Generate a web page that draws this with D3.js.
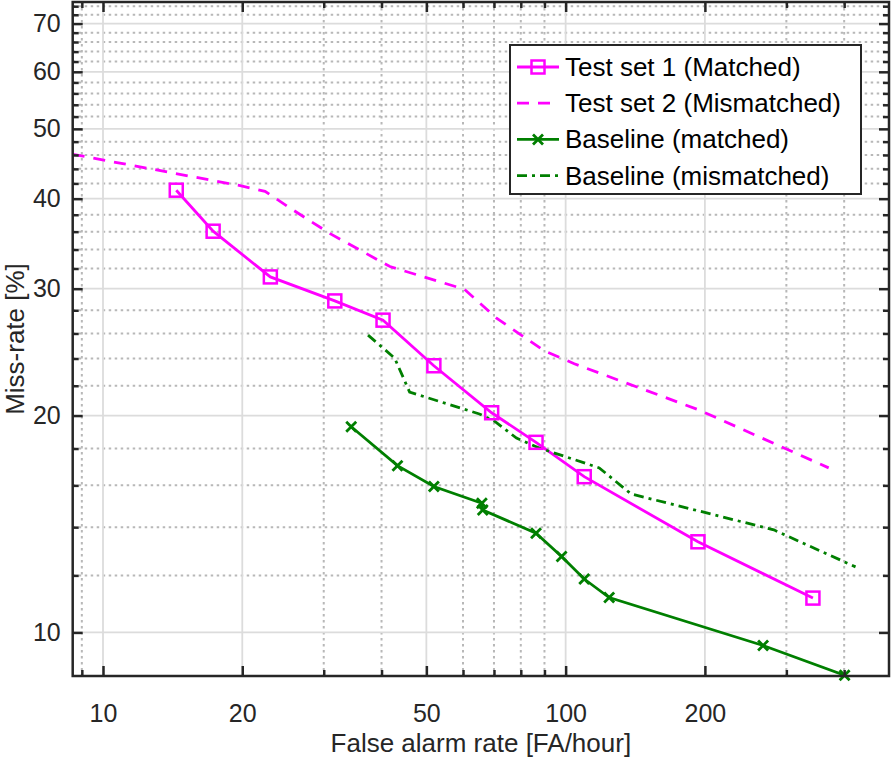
<!DOCTYPE html>
<html>
<head>
<meta charset="utf-8">
<script src="https://cdn.jsdelivr.net/npm/d3@7"></script>
<style>
  body { margin: 0; background: #fff; }
  text { font-family: "Liberation Sans", Arial, sans-serif; }
</style>
</head>
<body>
<svg width="893" height="757"></svg>
<script>
// tick values
var xTicks = [10, 20, 50, 100, 200];
var xMinor = [9, 30, 40, 60, 70, 80, 90, 300, 400];
var yTicks = [10, 20, 30, 40, 50, 60, 70];
var yMinor = [12, 14, 16, 18, 22, 24, 26, 28, 32, 34, 36, 38, 42, 44, 46, 48,
  52, 54, 56, 58, 62, 64, 66, 68, 72, 74];

// Test set 1 (Matched)
var test1X = [14.4, 17.3, 23.0, 31.7, 40.3, 51.9, 69.2, 86.3, 109.7, 193.2, 342.4];
var test1Y = [41.1, 36.05, 31.15, 28.85, 27.13, 23.45, 20.18, 18.36, 16.45, 13.36, 11.16];

// Test set 2 (Mismatched)
var test2X = [8.6, 19.8, 22.4, 25.4, 30.9, 41.7, 60.4, 70.9, 89.9, 104.4, 194.2, 370.3];
var test2Y = [46.1, 41.7, 40.95, 38.8, 35.8, 32.2, 29.95, 27.3, 24.6, 23.6, 20.36, 16.92];

// Baseline (matched)
var baseMX = [34.4, 43.3, 51.9, 65.9, 66.2, 86.3, 98.0, 109.7, 124.2, 267.2, 400.9];
var baseMY = [19.3, 17.04, 15.94, 15.11, 14.79, 13.73, 12.75, 11.86, 11.18, 9.59, 8.72];

// Baseline (mismatched)
var baseUX = [37.4, 42.7, 46.0, 65.1, 70.2, 78.3, 87.7, 118.2, 138.5, 281.8, 423.3];
var baseUY = [25.86, 24.03, 21.56, 20.1, 19.65, 18.61, 18.03, 16.92, 15.57, 13.88, 12.33];

var legendNames = ["Test set 1 (Matched)", "Test set 2 (Mismatched)", "Baseline (matched)", "Baseline (mismatched)"];

var magenta = "#ff00ff", green = "#007f00", axisCol = "#262626";
var pLeft = 72.7, pRight = 889, pTop = 2, pBottom = 676;

var svg = d3.select("svg");

var x = d3.scaleLog().domain([8.6, 500]).range([pLeft, pRight]);
var y = d3.scaleLog().domain([8.7, 75]).range([pBottom, pTop]);

// grid
var grid = svg.append("g");
grid.selectAll(".gxm").data(xMinor).join("line")
  .attr("x1", d => x(d)).attr("x2", d => x(d)).attr("y1", pTop).attr("y2", pBottom)
  .style("stroke", "#b8b8b8").style("stroke-width", 2).style("stroke-dasharray", "2.5,3.5");
grid.selectAll(".gym").data(yMinor).join("line")
  .attr("y1", d => y(d)).attr("y2", d => y(d)).attr("x1", pLeft).attr("x2", pRight)
  .style("stroke", "#b8b8b8").style("stroke-width", 2).style("stroke-dasharray", "2.5,3.5");
grid.selectAll(".gx").data(xTicks).join("line")
  .attr("x1", d => x(d)).attr("x2", d => x(d)).attr("y1", pTop).attr("y2", pBottom)
  .style("stroke", "#dcdcdc").style("stroke-width", 1.8);
grid.selectAll(".gy").data(yTicks).join("line")
  .attr("y1", d => y(d)).attr("y2", d => y(d)).attr("x1", pLeft).attr("x2", pRight)
  .style("stroke", "#dcdcdc").style("stroke-width", 1.8);

// data lines
svg.append("clipPath").attr("id", "clip").append("rect")
  .attr("x", pLeft).attr("y", pTop).attr("width", pRight - pLeft).attr("height", pBottom - pTop);
var plot = svg.append("g").attr("clip-path", "url(#clip)");

function pts(xs, ys) { return xs.map((v, i) => [v, ys[i]]); }
var line = d3.line().x(d => x(d[0])).y(d => y(d[1]));

var series = [
  { name: legendNames[0], data: pts(test1X, test1Y), color: magenta, dash: null, marker: "square" },
  { name: legendNames[1], data: pts(test2X, test2Y), color: magenta, dash: "12,9", marker: null },
  { name: legendNames[2], data: pts(baseMX, baseMY), color: green, dash: null, marker: "cross" },
  { name: legendNames[3], data: pts(baseUX, baseUY), color: green, dash: "10,5,3,5", marker: null }
];

function drawMarker(g, type, color, cx, cy) {
  if (type === "square") {
    g.append("rect").attr("x", cx - 6.5).attr("y", cy - 6.5).attr("width", 13).attr("height", 13)
      .style("fill", "none").style("stroke", color).style("stroke-width", 2.5);
  } else if (type === "cross") {
    g.append("path").attr("d", `M${cx - 5},${cy - 5}L${cx + 5},${cy + 5}M${cx - 5},${cy + 5}L${cx + 5},${cy - 5}`)
      .style("fill", "none").style("stroke", color).style("stroke-width", 2.8);
  }
}

series.forEach(function (s) {
  plot.append("path").datum(s.data).attr("d", line)
    .style("fill", "none").style("stroke", s.color).style("stroke-width", 2.8)
    .style("stroke-dasharray", s.dash);
});
series.forEach(function (s) {
  if (!s.marker) return;
  var mg = svg.append("g");
  s.data.forEach(d => drawMarker(mg, s.marker, s.color, x(d[0]), y(d[1])));
});

// axes (ticks inside, on all four sides)
function styleAxis(g) {
  g.select(".domain").remove();
  g.selectAll(".tick line").style("stroke", axisCol).style("stroke-width", 2.5);
  g.selectAll(".tick text").style("fill", axisCol).style("font-size", "25px");
}
var fmt = d3.format("d");
svg.append("g").attr("transform", `translate(0,${pBottom})`)
  .call(d3.axisBottom(x).tickValues(xTicks).tickFormat(fmt).tickSizeInner(-10).tickPadding(28))
  .call(styleAxis);
svg.append("g").attr("transform", `translate(0,${pBottom})`)
  .call(d3.axisBottom(x).tickValues(xMinor).tickFormat("").tickSizeInner(-6)).call(styleAxis);
svg.append("g").attr("transform", `translate(0,${pTop})`)
  .call(d3.axisTop(x).tickValues(xTicks).tickFormat("").tickSizeInner(-10)).call(styleAxis);
svg.append("g").attr("transform", `translate(0,${pTop})`)
  .call(d3.axisTop(x).tickValues(xMinor).tickFormat("").tickSizeInner(-6)).call(styleAxis);
svg.append("g").attr("transform", `translate(${pLeft},0)`)
  .call(d3.axisLeft(y).tickValues(yTicks).tickFormat(fmt).tickSizeInner(-10).tickPadding(12))
  .call(styleAxis);
svg.append("g").attr("transform", `translate(${pLeft},0)`)
  .call(d3.axisLeft(y).tickValues(yMinor).tickFormat("").tickSizeInner(-6)).call(styleAxis);
svg.append("g").attr("transform", `translate(${pRight},0)`)
  .call(d3.axisRight(y).tickValues(yTicks).tickFormat("").tickSizeInner(-10)).call(styleAxis);
svg.append("g").attr("transform", `translate(${pRight},0)`)
  .call(d3.axisRight(y).tickValues(yMinor).tickFormat("").tickSizeInner(-6)).call(styleAxis);

svg.append("rect").attr("x", pLeft).attr("y", pTop).attr("width", pRight - pLeft).attr("height", pBottom - pTop)
  .style("fill", "none").style("stroke", axisCol).style("stroke-width", 2.5);

// axis labels
svg.append("text").attr("x", (pLeft + pRight) / 2).attr("y", 752).attr("text-anchor", "middle")
  .style("font-size", "26px").style("fill", axisCol).text("False alarm rate [FA/hour]");
svg.append("text").attr("transform", `translate(24,${(pTop + pBottom) / 2}) rotate(-90)`)
  .attr("text-anchor", "middle").style("font-size", "26px").style("fill", axisCol).text("Miss-rate [%]");

// legend
var lg = svg.append("g");
lg.append("rect").attr("x", 510).attr("y", 45).attr("width", 351).attr("height", 149)
  .style("fill", "#fff").style("stroke", axisCol).style("stroke-width", 2);
series.forEach(function (s, i) {
  var ly = 67 + i * 36.2;
  lg.append("line").attr("x1", 517).attr("x2", 559).attr("y1", ly).attr("y2", ly)
    .style("stroke", s.color).style("stroke-width", 2.8).style("stroke-dasharray", s.dash);
  if (s.marker) drawMarker(lg, s.marker, s.color, 538, ly);
  lg.append("text").attr("x", 565).attr("y", ly + 9).style("font-size", "26px").style("fill", "#000").text(s.name);
});
</script>
</body>
</html>
